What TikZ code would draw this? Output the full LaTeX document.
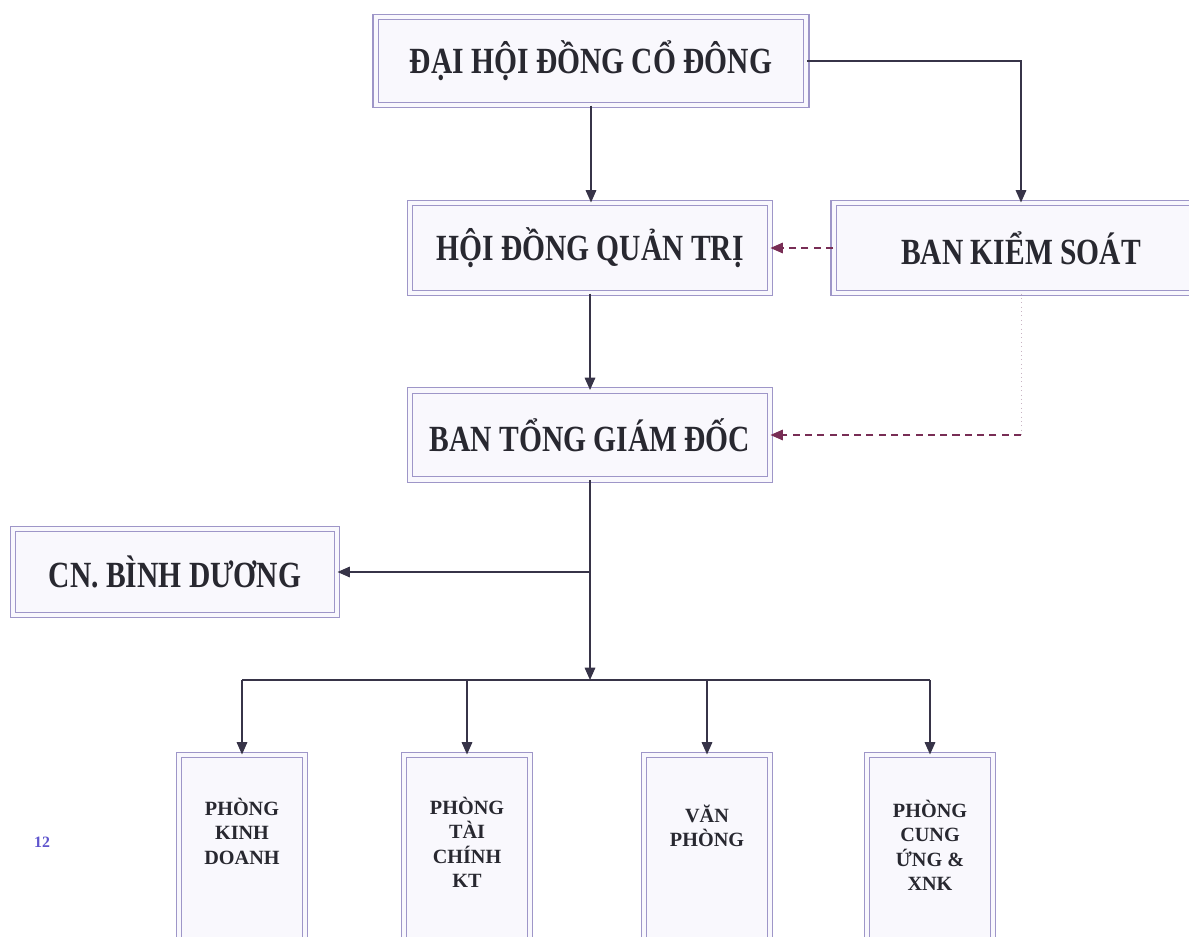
\documentclass[tikz,border=0pt]{standalone}
\usepackage{fontspec}
\setmainfont{Liberation Serif}
\newfontfamily\headfont[FakeStretch=0.8]{Liberation Serif}
\usetikzlibrary{arrows.meta}
\definecolor{boxline}{RGB}{158,150,200}
\definecolor{boxfill}{RGB}{249,248,253}
\definecolor{linkline}{RGB}{55,52,72}
\definecolor{dashline}{RGB}{120,45,85}
\definecolor{dotline}{RGB}{200,180,195}
\definecolor{inktext}{RGB}{40,40,48}
\definecolor{pageblue}{RGB}{95,85,205}

\begin{document}
\begin{tikzpicture}[x=0.02cm, y=-0.02cm,
    unit/.style={draw=boxline, line width=0.6pt, double=boxfill, double distance=2.3pt, fill=boxfill, inner sep=0pt},
    head/.style={unit, text=inktext, font=\headfont\bfseries\fontsize{21}{24}\selectfont},
    dept/.style={unit, minimum width=2.52cm, minimum height=4.2cm},
    depttext/.style={anchor=north, align=center, inner sep=0pt, text=inktext, font=\bfseries\fontsize{11.5}{14}\selectfont},
    link/.style={draw=linkline, line width=0.8pt, -{Triangle[length=7pt,width=6pt]}},
    bar/.style={draw=linkline, line width=0.8pt},
    dashlink/.style={draw=dashline, line width=0.8pt, dash pattern=on 4pt off 3pt, -{Triangle[length=7pt,width=6pt]}},
    dotlink/.style={draw=dotline, line width=0.5pt, dotted}]
    \useasboundingbox (0,0) rectangle (1189,936);
    \clip (0,0) rectangle (1189,936);

    \node[head, minimum width=8.62cm, minimum height=1.76cm] (dhcd) at (591,61) {ĐẠI HỘI ĐỒNG CỔ ĐÔNG};
    \node[head, minimum width=7.2cm, minimum height=1.8cm] (hdqt) at (590,248) {HỘI ĐỒNG QUẢN TRỊ};
    \node[head, minimum width=7.5cm, minimum height=1.8cm] (bks) at (1021,248) {BAN KIỂM SOÁT};
    \node[head, minimum width=7.2cm, minimum height=1.78cm] (btgd) at (590,435) {BAN TỔNG GIÁM ĐỐC};
    \node[head, minimum width=6.48cm, minimum height=1.72cm] (cn) at (175,572) {CN. BÌNH DƯƠNG};

    \node[dept] (kd) at (242,860) {};
    \node[dept] (tc) at (467,860) {};
    \node[dept] (vp) at (707,860) {};
    \node[dept] (cu) at (930,860) {};
    \node[depttext] (kdtext) at ([yshift=-0.86cm]kd.north) {PHÒNG\\KINH\\DOANH};
    \node[depttext] (tctext) at ([yshift=-0.84cm]tc.north) {PHÒNG\\TÀI\\CHÍNH\\KT};
    \node[depttext] (vptext) at ([yshift=-1.0cm]vp.north) {VĂN\\PHÒNG};
    \node[depttext] (cutext) at ([yshift=-0.9cm]cu.north) {PHÒNG\\CUNG\\ỨNG \&\\XNK};

    \node[text=pageblue, font=\bfseries\fontsize{9}{10}\selectfont] (pagenum) at (42,842) {12};

    \draw[link] (dhcd.south) -- (dhcd.south |- hdqt.north);
    \draw[link] (dhcd.east) -| (bks.north);
    \draw[dashlink] (bks.west) -- (hdqt.east);
    \draw[link] (hdqt.south) -- (btgd.north);
    \coordinate (kscorner) at (bks.south |- btgd.east);
    \draw[dotlink] (bks.south) -- (kscorner);
    \draw[dashlink] (kscorner) -- (btgd.east);

    \coordinate (split) at (btgd.south |- cn.east);
    \coordinate (hub) at (btgd.south |- 0,680);
    \draw[link] (btgd.south) -- (hub);
    \draw[link] (split) -- (cn.east);
    \draw[bar] (hub -| kd.north) -- (hub -| cu.north);
    \foreach \d in {kd,tc,vp,cu}
        \draw[link] (hub -| \d.north) -- (\d.north);
\end{tikzpicture}
\end{document}
